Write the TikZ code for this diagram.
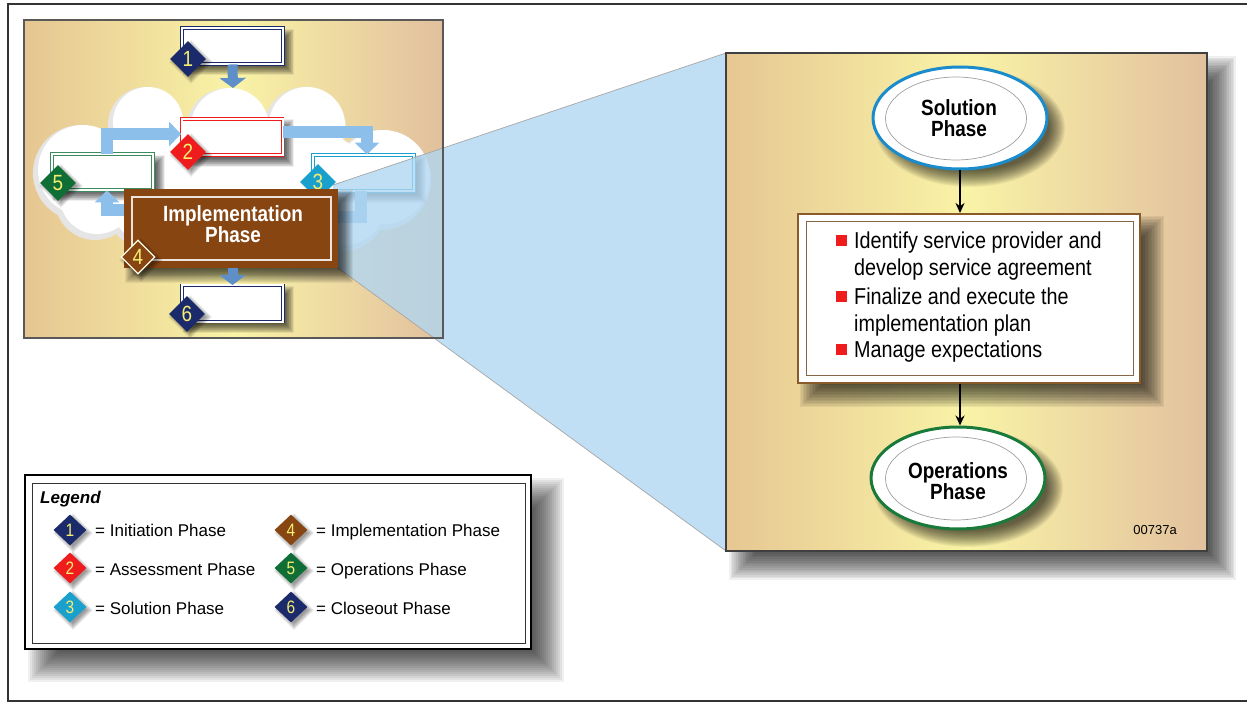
\documentclass[tikz,border=0pt]{standalone}
\usepackage{fontspec}
\setmainfont{Liberation Sans}
\newfontfamily\cond[FakeStretch=0.86]{Liberation Sans}
\usetikzlibrary{shapes.geometric,arrows.meta}
\definecolor{navy}{HTML}{1B2A6B}
\definecolor{redd}{HTML}{EE1C1C}
\definecolor{cyann}{HTML}{1AA0CC}
\definecolor{brownn}{HTML}{874512}
\definecolor{greenn}{HTML}{0E6E36}
\definecolor{flowblue}{HTML}{8CC0EA}
\definecolor{flowdark}{HTML}{5E8FC8}
\definecolor{tanL}{HTML}{E6C692}
\definecolor{yel}{HTML}{F9F3A6}
\definecolor{tanR}{HTML}{E2C09E}
\definecolor{trap}{HTML}{B0D6F2}
\definecolor{numyel}{HTML}{F6EE70}
\definecolor{solblue}{HTML}{1A8CCC}
\definecolor{opgreen}{HTML}{1A7A3A}
\definecolor{boxbrown}{HTML}{8B5A2B}
\pgfdeclarehorizontalshading{pshade}{100bp}{color(0bp)=(tanL); color(41bp)=(tanL); color(50bp)=(yel); color(59bp)=(tanR); color(100bp)=(tanR)}
\newcommand\rshadow[6]{\foreach \k in {0,...,15}{\pgfmathsetmacro\dd{#6-\k*#6/7.5}\fill[black,opacity=0.058] ({#1+#5-\dd},{#2+#5-\dd}) rectangle ({#3+#5+\dd},{#4+#5+\dd});}}
\newcommand\eshadow[6]{\foreach \k in {0,...,15}{\pgfmathsetmacro\dd{#6-\k*#6/7.5}\fill[black,opacity=0.05] ({#1+#5},{#2+#5}) ellipse [x radius={#3+\dd}, y radius={#4+\dd}];}}
\newcommand\dshadow[4]{\foreach \k in {0,...,7}{\pgfmathsetmacro\ss{#3+4-\k}\fill[black,opacity=0.06] ({#1+#4},{#2+#4-\ss}) -- ({#1+#4+\ss},{#2+#4}) -- ({#1+#4},{#2+#4+\ss}) -- ({#1+#4-\ss},{#2+#4}) -- cycle;}}
\begin{document}
\begin{tikzpicture}[x=1pt,y=-1pt,
  dia/.style={diamond,inner sep=0pt,minimum width=36pt,minimum height=36pt,text=numyel,font=\cond\fontsize{22}{22}\selectfont},
  ldia/.style={dia,minimum width=33pt,minimum height=31pt,font=\cond\fontsize{18}{18}\selectfont},
  flow/.style={line width=12pt,draw=flowblue,-{Triangle[width=24pt,length=12pt]}},
  flowd/.style={line width=10pt,draw=flowdark,-{Triangle[width=26pt,length=10pt]}},
  lbox/.style={draw=#1,double=white,double distance=2pt,line width=0.9pt,fill=white,minimum width=101pt,minimum height=36pt,inner sep=0pt},
  bul/.style={fill=redd,minimum width=11pt,minimum height=11pt,inner sep=0pt},
  btxt/.style={anchor=base west,inner sep=0pt,font=\cond\fontsize{23}{27}\selectfont},
  ltxt/.style={anchor=base west,inner sep=0pt,font=\fontsize{17}{20}\selectfont},
  ttl/.style={align=center,inner sep=0pt,font=\cond\bfseries\fontsize{22}{21}\selectfont},
  barrow/.style={line width=1.5pt,-{Stealth[length=10pt,width=9pt]}}]
\useasboundingbox (0,0) rectangle (1247,703);
\fill[white] (0,0) rectangle (1247,703);
\draw[line width=1.6pt,draw=black!80] (8,4) rectangle (1262,701);

% ---------------- left panel ----------------
\begin{scope}
\clip (24,20) rectangle (443,338);
\shade[shading=pshade,rotate around={24:(233.5,179)}] (-185.5,-300) rectangle (652.5,658);
\end{scope}
% cloud
\foreach \cx/\cy/\r in {148/122/35,230/127/39,307/125/38,383/177/47,83/170/45,97/197/37,150/205/38,345/205/40,250/210/40}
  \fill[gray!20] ({\cx-2},{\cy+3}) circle [radius=\r+3];
\fill[gray!20] (228,178) ellipse [x radius=143,y radius=63];
\foreach \cx/\cy/\r in {148/122/35,230/127/39,307/125/38,383/177/47,83/170/45,97/197/37,150/205/38,345/205/40,250/210/40}
  \fill[white] (\cx,\cy) circle [radius=\r];
\fill[white] (230,175) ellipse [x radius=140,y radius=60];
% box shadows
\rshadow{182}{28}{283}{64}{6}{5}
\rshadow{181}{118}{283}{156}{6}{5}
\rshadow{51}{154}{154}{190}{6}{5}
\rshadow{312}{154}{415}{192}{6}{5}
\rshadow{182}{285}{283}{322}{6}{5}
% boxes
\node[lbox=navy] (b1) at (232.5,46) {};
\node[lbox=redd] (b2) at (232,137) {};
\node[lbox=greenn!80] (b5) at (102.5,172) {};
\node[lbox=cyann] (b3) at (363.5,173) {};
\node[lbox=navy] (b6) at (232.5,303.5) {};
% flow arrows
\coordinate (c52) at (107,134);
\coordinate (c23) at (367,132);
\coordinate (c34a) at (361,217);
\coordinate (c34b) at (330,217);
\coordinate (c45) at (107,210);
\draw[flow] (b5.north -| c52) -- (c52) -- (c52 -| b2.west);
\draw[flow] (b2.east |- c23) -- (c23) -- (c23 |- b3.north);
\draw[flow,-] (b3.south -| c34a) -- (c34a) -- (c34b);
\draw[flow] (124,210) -- (c45) -- (c45 |- b5.south);
% diamonds
\dshadow{188}{59}{18}{3}
\node[dia,fill=navy] (d1) at (188,59) {1};
\dshadow{188}{152}{18}{3}
\node[dia,fill=redd] (d2) at (188,152) {2};
\dshadow{58}{183}{18}{3}
\node[dia,fill=greenn] (d5) at (58,183) {5};
\draw[flowd] (b1.south) -- (233,88);
% trapezoid
\coordinate (tA) at (333,185);
\coordinate (tB) at (726,53);
\coordinate (tC) at (726,551);
\coordinate (tD) at (338,268);
\fill[trap,opacity=0.78] (tA) -- (tB) -- (tC) -- (tD) -- cycle;
\draw[black!35,line width=0.7pt] (tA) -- (tB);
\draw[black!35,line width=0.7pt] (tD) -- (tC);
\node[dia,fill=cyann] (d3) at (318,182) {3};
% implementation box
\rshadow{124}{189}{338}{268}{8}{7}
\node[fill=brownn,minimum width=214pt,minimum height=79pt,inner sep=0pt] (impl) at (231,228.5) {};
\draw[white!85!brownn,line width=1.3pt] (132,197) rectangle (331,260);
\node[ttl,text=white] (implt) at (233,224) {Implementation\\Phase};
\dshadow{138}{257}{18}{3}
\node[dia,fill=brownn,draw=white!90!yellow,line width=1.2pt,minimum width=34pt,minimum height=34pt] (d4) at (138,257) {4};
\draw[flowd] (impl.south -| b6) -- (b6.north);
\dshadow{187}{314}{18}{3}
\node[dia,fill=navy] (d6) at (187,314) {6};
\draw[black!65,line width=1.2pt] (24,20) rectangle (443,338);

% ---------------- right panel ----------------
\rshadow{726}{53}{1207}{551}{16}{13}
\begin{scope}
\clip (726,53) rectangle (1207,551);
\shade[shading=pshade,rotate around={23:(966.5,302)}] (485.5,-300) rectangle (1447.5,900);
\end{scope}
\draw[black!75,line width=1.2pt] (726,53) rectangle (1207,551);
\eshadow{960}{118}{87}{51}{10}{8}
\node[ellipse,draw=solblue,line width=3pt,fill=white,minimum width=174pt,minimum height=102pt] (sol) at (960,118) {};
\node[ellipse,draw=gray!75,line width=0.7pt,minimum width=141pt,minimum height=83pt] (soli) at (956,118.5) {};
\node[ttl] (solt) at (959,118) {Solution\\Phase};
\rshadow{798}{214}{1140}{383}{13}{11}
\node[draw=boxbrown,line width=2pt,fill=white,minimum width=342pt,minimum height=169pt,inner sep=0pt] (tbox) at (969,298.5) {};
\draw[boxbrown!70!gray,line width=0.8pt] (806,221) rectangle (1133,375);
\node[bul] (q1) at (841,240.5) {};
\node[btxt] (p1a) at (854,249) {Identify service provider and};
\node[btxt] (p1b) at (854,276) {develop service agreement};
\node[bul] (q2) at (841,296) {};
\node[btxt] (p2a) at (854,304.5) {Finalize and execute the};
\node[btxt] (p2b) at (854,331) {implementation plan};
\node[bul] (q3) at (841,349) {};
\node[btxt] (p3a) at (854,357.5) {Manage expectations};
\eshadow{958}{478}{87}{51}{10}{8}
\node[ellipse,draw=opgreen,line width=3pt,fill=white,minimum width=174pt,minimum height=102pt] (ops) at (958,478) {};
\node[ellipse,draw=gray!75,line width=0.7pt,minimum width=141pt,minimum height=83pt] (opsi) at (956,478.5) {};
\node[ttl] (opst) at (958,481) {Operations\\Phase};
\draw[barrow] (sol.south) -- (sol.south |- tbox.north);
\draw[barrow] (sol.south |- tbox.south) -- (sol.south |- ops.north);
\node[anchor=base east,inner sep=0pt,font=\fontsize{13}{13}\selectfont] (code) at (1177,534) {00737a};

% ---------------- legend ----------------
\rshadow{25}{475}{531}{649}{18}{15}
\node[draw=black,line width=2.5pt,fill=white,minimum width=506pt,minimum height=174pt,inner sep=0pt] (leg) at (278,562) {};
\draw[black!80,line width=0.8pt] (32,483) rectangle (525,643);
\node[anchor=base west,inner sep=0pt,font=\bfseries\itshape\fontsize{17}{20}\selectfont] (legt) at (40,503) {Legend};
\dshadow{70}{530}{16}{3}
\node[ldia,fill=navy] (l1) at (70,530) {1};
\node[ltxt] (t1) at (95,536) {= Initiation Phase};
\dshadow{70}{568}{16}{3}
\node[ldia,fill=redd] (l2) at (70,568) {2};
\node[ltxt] (t2) at (95,575) {= Assessment Phase};
\dshadow{70}{607}{16}{3}
\node[ldia,fill=cyann] (l3) at (70,607) {3};
\node[ltxt] (t3) at (95,614) {= Solution Phase};
\dshadow{291}{530}{16}{3}
\node[ldia,fill=brownn] (l4) at (291,530) {4};
\node[ltxt] (t4) at (316,536) {= Implementation Phase};
\dshadow{291}{568}{16}{3}
\node[ldia,fill=greenn] (l5) at (291,568) {5};
\node[ltxt] (t5) at (316,575) {= Operations Phase};
\dshadow{291}{607}{16}{3}
\node[ldia,fill=navy] (l6) at (291,607) {6};
\node[ltxt] (t6) at (316,614) {= Closeout Phase};
\end{tikzpicture}
\end{document}
